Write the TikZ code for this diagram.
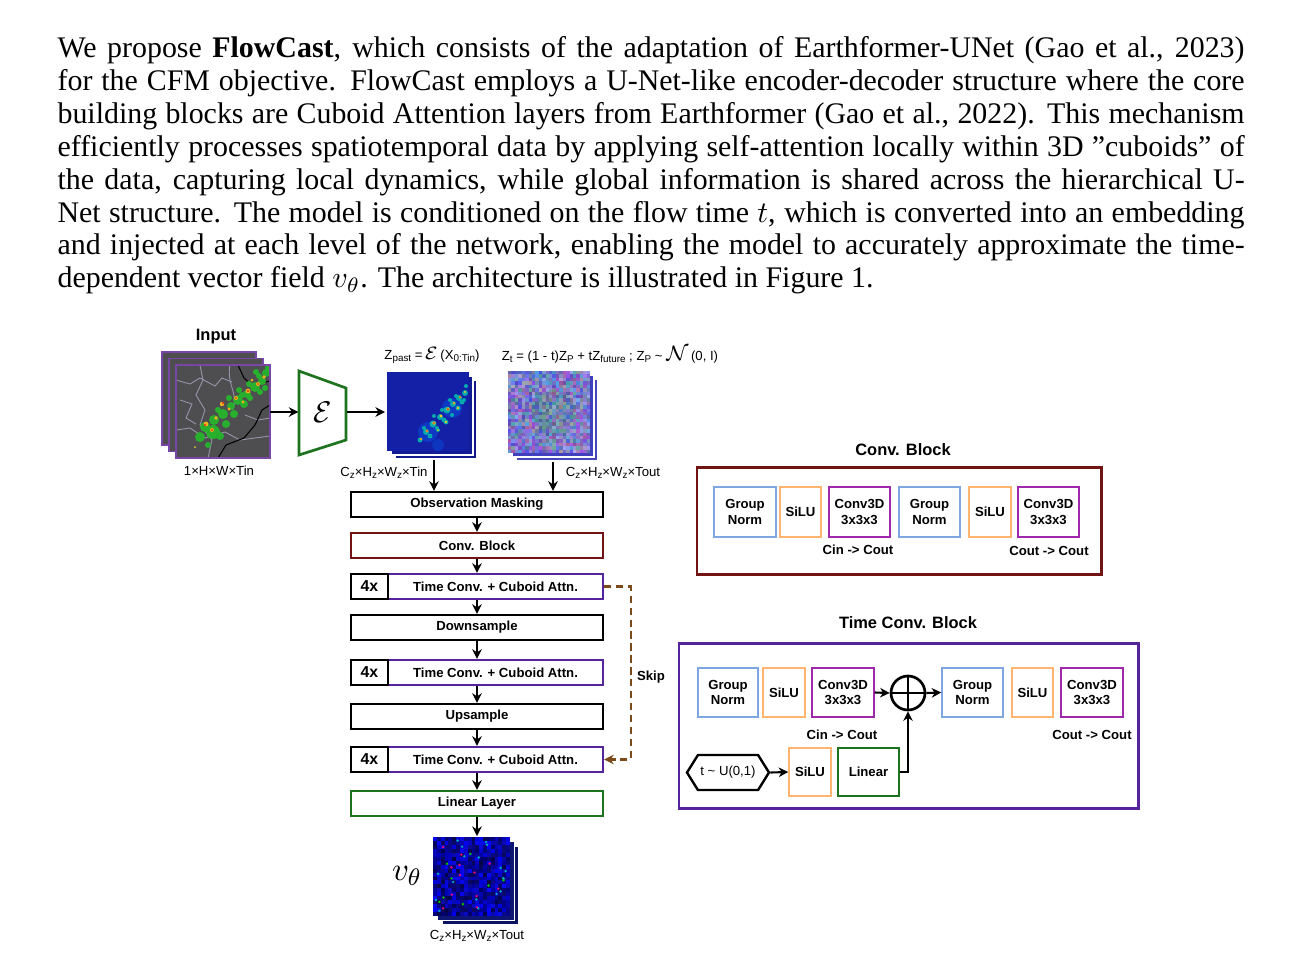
\documentclass[tikz,border=0pt]{standalone}
\usepackage{fontspec}
\setmainfont{Liberation Serif}
\newfontfamily\dfont{Liberation Sans}
\usetikzlibrary{arrows.meta,shapes.symbols,calc}

\definecolor{cblue}{RGB}{126,166,224}
\definecolor{corange}{RGB}{255,181,112}
\definecolor{cpurp}{RGB}{160,40,170}
\definecolor{cviolet}{RGB}{85,35,155}
\definecolor{cdred}{RGB}{115,20,20}
\definecolor{cgreen}{RGB}{30,115,30}
\definecolor{cbrown}{RGB}{125,75,25}
\definecolor{inpurp}{RGB}{120,70,165}
\definecolor{cgray}{RGB}{78,78,80}
\definecolor{cline}{RGB}{150,150,170}
\definecolor{stgreen}{RGB}{40,175,45}
\definecolor{styel}{RGB}{235,200,40}
\definecolor{stred}{RGB}{215,40,30}
\definecolor{zblue}{RGB}{20,32,165}

\def\px{0.33446pt}
\newcommand{\dsub}[1]{\raisebox{-0.6pt}{\fontsize{3.3}{3.5}\selectfont#1}}

\tikzset{
 wh/.style 2 args={minimum width=#1*\px, minimum height=#2*\px},
 lblfont/.style={font=\dfont\bfseries\fontsize{4.4}{5.2}\selectfont},
 mbox/.style={draw, rectangle, inner sep=0pt, line width=0.8pt, align=center, lblfont},
 ibox/.style={draw, rectangle, inner sep=0pt, line width=0.5pt, align=center, lblfont},
 dimlbl/.style={inner sep=0pt, font=\dfont\fontsize{4.4}{5.2}\selectfont},
 ttl/.style={inner sep=0pt, font=\dfont\bfseries\fontsize{5.5}{6.5}\selectfont},
 arr/.style={line width=0.7pt, -{Stealth[length=3.2pt,width=3.2pt]}},
 skipline/.style={line width=0.7pt, cbrown, dash pattern=on 2.4pt off 1.6pt, -{Stealth[length=3.2pt,width=3.2pt]}},
 layer/.style={draw=white, line width=0.35pt},
}

\begin{document}
\begin{tikzpicture}[x=0.33446pt,y=-0.33446pt]
\useasboundingbox (0,0) rectangle (1299,978);
\fill[white] (0,0) rectangle (1299,978);

% ---------------- paragraph
\node[anchor=north west, inner sep=0pt, text width=397pt, align=justify,
      font=\fontsize{10}{11}\selectfont] (para) at (57,36) {\hyphenpenalty=10000\exhyphenpenalty=10000
We propose \textbf{FlowCast}, which consists of the adaptation of Earthformer-UNet (Gao et~al., 2023)\linebreak
for the CFM objective.  FlowCast employs a U-Net-like encoder-decoder structure where the core\linebreak
building blocks are Cuboid Attention layers from Earthformer (Gao et~al., 2022).  This mechanism\linebreak
efficiently processes spatiotemporal data by applying self-attention locally within 3D ''cuboids'' of\linebreak
the data, capturing local dynamics, while global information is shared across the hierarchical U-\linebreak
Net structure.  The model is conditioned on the flow time $t$, which is converted into an embedding\linebreak
and injected at each level of the network, enabling the model to accurately approximate the time-\linebreak
dependent vector field $v_\theta$. The architecture is illustrated in Figure~1.};

% ---------------- input stack
\node[ttl] (inlbl) at (216,337) {Input};
\fill[cgray] (162,352) rectangle ++(94,93);
\draw[inpurp, line width=0.6pt] (162,352) rectangle ++(94,93);
\fill[cgray] (169,358.5) rectangle ++(94,93);
\draw[inpurp, line width=0.6pt] (169,358.5) rectangle ++(94,93);
\fill[cgray] (176,365) rectangle (270,458);
\begin{scope}
\clip (176,365) rectangle (270,458);
\draw[cline, line width=0.3pt] (176,380) -- (190,384) -- (200,378) -- (215,386) -- (222,378) -- (232,382);
\draw[cline, line width=0.3pt] (200,365) -- (203,380) -- (196,395) -- (205,410) -- (200,425) -- (212,440) -- (208,458);
\draw[cline, line width=0.3pt] (230,365) .. controls (226,385) and (240,395) .. (232,410);
\draw[cline, line width=0.3pt] (176,430) -- (190,428) -- (205,438) -- (225,432) -- (240,440) -- (270,436);
\draw[cline, line width=0.3pt] (245,415) -- (258,420) -- (270,418);
\draw[cline, line width=0.3pt] (180,400) -- (192,404) -- (186,418) -- (196,424);
\draw[black, line width=0.35pt] (238,365) -- (244,378) -- (252,385) -- (270,381);
\draw[black, line width=0.35pt] (218,458) -- (226,445) -- (244,438) -- (255,425) -- (262,410) -- (270,405);
\foreach \x/\y/\r in {213/432/7,205/427/5,214/420/5,223/414/5,231/406/4,238/400/5,247/394/4,255/387/5,262/381/4,266/373/4,220/436/4,242/395/3,259/376/3,
  200/437/5,208/445/3,226/424/4,234/414/4,244/404/4,250/398/3,260/392/3,265/388/3,268/368/3,256/372/3,218/410/3,229/398/3,239/390/3,249/384/3}
  \fill[stgreen] (\x,\y) circle[radius=\r*\px];
\foreach \x/\y/\r in {206/424/2.4,216/418/1.8,222/404/2.2,236/398/2,248/391/2.4,258/384/2,264/377/1.8,229/409/1.6,252/380/1.5,212/430/2,243/402/1.6}
  \fill[styel!70!orange] (\x,\y) circle[radius=\r*\px];
\foreach \x/\y/\r in {205/425/1.2,223/403/1.1,248/391/1.2,236/398/0.9,258/384/0.9,212/430/1}
  \fill[stred] (\x,\y) circle[radius=\r*\px];
\fill[styel] (195,447) circle[radius=1*\px];
\end{scope}
\draw[inpurp, line width=0.6pt] (176,365) rectangle (270,458);
\coordinate (inp) at (270,412);
\node[dimlbl] (indim) at (219,471) {1×H×W×Tin};

% ---------------- encoder
\node[inner sep=0pt, wh={47}{84}] (enc) at (322.5,412) {\fontsize{10}{10}\selectfont$\mathcal{E}$};
\draw[cgreen, line width=0.9pt] (299,371) -- (346,388) -- (346,440) -- (299,455) -- cycle;
\draw[arr] (inp) -- (enc.west);
\coordinate (zpin) at (385,412);
\draw[arr] (enc.east) -- (zpin);

% ---------------- Z_past stack
\node[dimlbl] (zplbl) at (432,355) {Z\dsub{past} =\,{\fontsize{6}{6}\selectfont$\mathcal{E}$}\,(X\dsub{0:Tin})};
\fill[zblue!85!black] (395,380) rectangle ++(82,79);
\draw[layer] (395,380) rectangle ++(82,79);
\fill[zblue!90!black] (391,376) rectangle ++(82,79);
\draw[layer] (391,376) rectangle ++(82,79);
\fill[zblue] (387,372) rectangle ++(82,79);
\begin{scope}
\clip (387,372) rectangle ++(82,79);
\fill[blue!60!cyan, opacity=0.35] (428,432) circle[radius=10*\px];
\fill[blue!60!cyan, opacity=0.35] (452,408) circle[radius=10*\px];
\fill[blue!60!cyan, opacity=0.3] (438,445) circle[radius=6*\px];
\foreach \x/\y/\r in {420/440/2.5,426/432/3,433/424/3.5,440/417/3,447/410/3.5,453/404/3,459/398/3,465/393/3,437/428/2,456/396/2,444/420/2.5,462/402/2.5,
  430/436/2.5,438/430/2,446/422/2.5,452/415/2,458/408/2.5,464/400/2,424/428/2,434/416/2,442/410/2,450/400/2,466/386/2}
  \fill[cyan!60!green] (\x,\y) circle[radius=\r*\px];
\foreach \x/\y/\r in {421/439/1.3,427/431/1.6,434/423/1.8,441/416/1.6,448/409/1.9,454/403/1.5,460/397/1.5,465/392/1.2,446/422/1.3,458/408/1.3,438/430/1}
  \fill[styel] (\x,\y) circle[radius=\r*\px];
\foreach \x/\y/\r in {427/431/0.8,434/423/0.9,448/409/1,460/397/0.8,421/439/0.7,454/403/0.7}
  \fill[stred] (\x,\y) circle[radius=\r*\px];
\end{scope}
\coordinate (zpb) at (434,460);
\node[dimlbl] (zpdim) at (384,473) {C\dsub{z}×H\dsub{z}×W\dsub{z}×Tin};

% ---------------- Z_t noise stack
\node[dimlbl] (ztlbl) at (610,355) {Z\dsub{t} = (1 - t)Z\dsub{P} + tZ\dsub{future} ; Z\dsub{P} \textasciitilde{} {\fontsize{7}{7}\selectfont$\mathcal{N}$}\,(0, I)};
\fill[blue!45!gray] (516,379) rectangle ++(82,82);
\draw[layer] (516,379) rectangle ++(82,82);
\fill[blue!50!gray] (512,375) rectangle ++(82,82);
\draw[layer] (512,375) rectangle ++(82,82);
\pgfmathsetseed{42}
\foreach \i in {0,...,23}{\foreach \j in {0,...,23}{
  \pgfmathtruncatemacro\cR{75+100*rnd}
  \pgfmathtruncatemacro\cG{75+95*rnd}
  \pgfmathtruncatemacro\cB{155+85*rnd}
  \definecolor{cellc}{RGB}{\cR,\cG,\cB}
  \fill[cellc] ({508+\i*3.4167},{371+\j*3.4167}) rectangle ++(3.5,3.5);
}}
\fill[green!70!black, opacity=0.15] (553,412) circle[radius=22*\px];
\coordinate (ztb) at (553,462);
\node[dimlbl] (ztdim) at (613,473) {C\dsub{z}×H\dsub{z}×W\dsub{z}×Tout};

% ---------------- main column
\node[mbox, wh={252}{25}] (obs) at (477,504.5) {Observation Masking};
\node[mbox, draw=cdred, wh={252}{25}] (convb) at (477,545.5) {Conv. Block};
\node[mbox, draw=cviolet, wh={215}{25}] (tc1) at (495.5,586.5) {Time Conv. + Cuboid Attn.};
\node[mbox, wh={37}{25}, font=\dfont\bfseries\fontsize{5.3}{6}\selectfont] (f1) at (369.5,586.5) {4x};
\node[mbox, wh={252}{25}] (down) at (477,627.5) {Downsample};
\node[mbox, draw=cviolet, wh={215}{25}] (tc2) at (495.5,672.5) {Time Conv. + Cuboid Attn.};
\node[mbox, wh={37}{25}, font=\dfont\bfseries\fontsize{5.3}{6}\selectfont] (f2) at (369.5,672.5) {4x};
\node[mbox, wh={252}{25}] (up) at (477,716.5) {Upsample};
\node[mbox, draw=cviolet, wh={215}{25}] (tc3) at (495.5,759.5) {Time Conv. + Cuboid Attn.};
\node[mbox, wh={37}{25}, font=\dfont\bfseries\fontsize{5.3}{6}\selectfont] (f3) at (369.5,759.5) {4x};
\node[mbox, draw=cgreen, wh={252}{25}] (lin) at (477,803.5) {Linear Layer};

\draw[arr] (zpb) -- (zpb |- obs.north);
\draw[arr] (ztb) -- (ztb |- obs.north);
\draw[arr] (obs.south) -- (convb.north);
\draw[arr] (convb.south) -- (convb.south |- tc1.north);
\draw[arr] (convb.south |- tc1.south) -- (down.north);
\draw[arr] (down.south) -- (down.south |- tc2.north);
\draw[arr] (down.south |- tc2.south) -- (up.north);
\draw[arr] (up.south) -- (up.south |- tc3.north);
\draw[arr] (up.south |- tc3.south) -- (lin.north);
\coordinate (outt) at (477,836);
\draw[arr] (lin.south) -- (outt);

% skip
\coordinate (skx) at (631,0);
\draw[skipline] (tc1.east) -- (tc1.east -| skx) -- (tc3.east -| skx) -- (tc3.east);
\node[lblfont, inner sep=0pt] (skiplbl) at (651,677) {Skip};

% ---------------- output stack
\fill[zblue!60!black] (442,846) rectangle ++(77,79);
\draw[layer] (442,846) rectangle ++(77,79);
\fill[zblue!70!black] (437.5,841.5) rectangle ++(77,79);
\draw[layer] (437.5,841.5) rectangle ++(77,79);
\pgfmathsetseed{7}
\foreach \i in {0,...,19}{\foreach \j in {0,...,19}{
  \pgfmathtruncatemacro\cB{70+185*rnd}
  \pgfmathtruncatemacro\cR{10*rnd}
  \definecolor{cellc}{RGB}{\cR,\cR,\cB}
  \fill[cellc] ({433+\i*3.85},{837+\j*3.95}) rectangle ++(3.95,4.05);
}}
\foreach \k in {1,...,18}{
  \pgfmathsetmacro\dx{436+71*rnd}\pgfmathsetmacro\dy{840+73*rnd}
  \fill[cyan!70!green] (\dx,\dy) circle[radius=0.45pt];}
\foreach \k in {1,...,12}{
  \pgfmathsetmacro\dx{436+71*rnd}\pgfmathsetmacro\dy{840+73*rnd}
  \fill[magenta!80!red] (\dx,\dy) circle[radius=0.45pt];}
\foreach \k in {1,...,8}{
  \pgfmathsetmacro\dx{436+71*rnd}\pgfmathsetmacro\dy{840+73*rnd}
  \fill[green!80!black] (\dx,\dy) circle[radius=0.45pt];}
\node[inner sep=0pt, font=\fontsize{11}{11}\selectfont] (vth) at (407,876) {$v_\theta$};
\node[dimlbl] (outdim) at (477,936) {C\dsub{z}×H\dsub{z}×W\dsub{z}×Tout};

% ---------------- Conv. Block panel
\node[ttl] (cbttl) at (903,450) {Conv. Block};
\node[draw=cdred, line width=1pt, inner sep=0pt, wh={404}{107}] (cbp) at (899,520.5) {};
\node[ibox, draw=cblue, wh={62}{50}] (cgn1) at (745,512) {Group\\Norm};
\node[ibox, draw=corange, wh={41}{50}] (csi1) at (800.5,512) {SiLU};
\node[ibox, draw=cpurp, wh={61}{50}] (ccv1) at (859.5,512) {Conv3D\\3x3x3};
\node[ibox, draw=cblue, wh={61}{50}] (cgn2) at (929.5,512) {Group\\Norm};
\node[ibox, draw=corange, wh={42}{50}] (csi2) at (990,512) {SiLU};
\node[ibox, draw=cpurp, wh={61}{50}] (ccv2) at (1048.5,512) {Conv3D\\3x3x3};
\node[lblfont, inner sep=0pt] (cbio1) at (858,550) {Cin -> Cout};
\node[lblfont, inner sep=0pt] (cbio2) at (1049,551) {Cout -> Cout};

% ---------------- Time Conv. Block panel
\node[ttl] (tcttl) at (908,623) {Time Conv. Block};
\node[draw=cviolet, line width=1pt, inner sep=0pt, wh={459}{165}] (tcp) at (908.5,725.5) {};
\node[ibox, draw=cblue, wh={60}{49}] (tgn1) at (728,692.5) {Group\\Norm};
\node[ibox, draw=corange, wh={42}{49}] (tsi1) at (784,692.5) {SiLU};
\node[ibox, draw=cpurp, wh={62}{49}] (tcv1) at (843,692.5) {Conv3D\\3x3x3};
\node[circle, draw, line width=0.9pt, minimum size=34*\px, inner sep=0pt] (plus) at (908,693) {};
\draw[line width=0.9pt] (plus.north) -- (plus.south) (plus.west) -- (plus.east);
\node[ibox, draw=cblue, wh={61}{49}] (tgn2) at (972.5,692.5) {Group\\Norm};
\node[ibox, draw=corange, wh={41}{49}] (tsi2) at (1032.5,692.5) {SiLU};
\node[ibox, draw=cpurp, wh={62}{49}] (tcv2) at (1092,692.5) {Conv3D\\3x3x3};
\node[lblfont, inner sep=0pt] (tcio1) at (842,735) {Cin -> Cout};
\node[lblfont, inner sep=0pt] (tcio2) at (1092,735) {Cout -> Cout};
\node[signal, signal to=east and west, signal pointer angle=116, draw, line width=0.8pt,
      wh={82}{35}, inner sep=0pt, dimlbl] (hex) at (728,772.5) {t \textasciitilde{} U(0,1)};
\node[ibox, draw=corange, wh={42}{48}] (bsi) at (810,772) {SiLU};
\node[ibox, draw=cgreen, line width=0.7pt, wh={61}{48}] (blin) at (868.5,772) {Linear};
\draw[arr] (tcv1.east) -- (plus.west);
\draw[arr] (plus.east) -- (tgn2.west);
\draw[arr] (hex.east) -- (bsi.west);
\draw[arr] (blin.east) -| (plus.south);
\end{tikzpicture}
\end{document}
